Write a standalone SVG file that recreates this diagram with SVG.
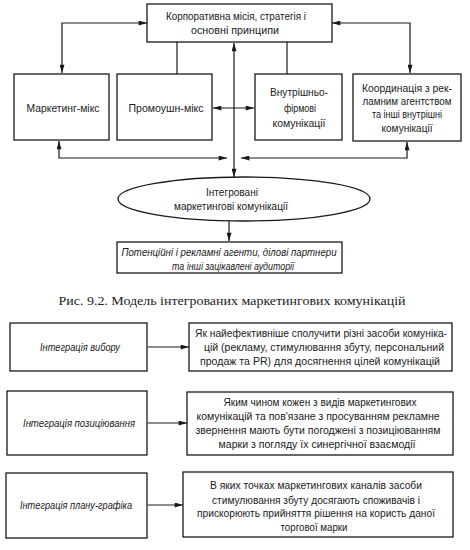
<svg xmlns="http://www.w3.org/2000/svg" width="470" height="550" viewBox="0 0 470 550">
<defs>
<marker id="ah" viewBox="0 0 10 6" refX="10" refY="3" markerWidth="9" markerHeight="5" markerUnits="userSpaceOnUse" orient="auto-start-reverse">
<path d="M0,0 L10,3 L0,6 Z" fill="#1a1a1a"/>
</marker>
</defs>
<style>
.b{fill:#fff;stroke:#1a1a1a;stroke-width:1.3}
.c{fill:none;stroke:#1a1a1a;stroke-width:1.2}
.t{font-family:"Liberation Sans",Arial,sans-serif;font-size:11.2px;fill:#1a1a1a;text-anchor:middle}
.i{font-style:italic}
.s{font-size:10.4px}
.cap{font-family:"Liberation Serif",serif;font-size:13px;fill:#222;text-anchor:middle}
</style>
<rect width="470" height="550" fill="#fff"/>
<g id="connectors">
<path class="c" d="M147,23 H62 V73" marker-start="url(#ah)" marker-end="url(#ah)"/>
<path class="c" d="M332,23 H410 V73" marker-start="url(#ah)" marker-end="url(#ah)"/>
<path class="c" d="M177,42 V74"/>
<path class="c" d="M287,42 V74"/>
<path class="c" d="M234,43 V177" marker-start="url(#ah)" marker-end="url(#ah)"/>
<path class="c" d="M213,108 H254" marker-start="url(#ah)" marker-end="url(#ah)"/>
<path class="c" d="M59,141 V158 H227" marker-start="url(#ah)" marker-end="url(#ah)"/>
<path class="c" d="M407,142 V158 H241" marker-start="url(#ah)" marker-end="url(#ah)"/>
<path class="c" d="M229,220 V241" marker-end="url(#ah)"/>
<path class="c" d="M148,347 H189" marker-end="url(#ah)"/>
<path class="c" d="M148,423 H187" marker-end="url(#ah)"/>
<path class="c" d="M148,505 H183" marker-end="url(#ah)"/>
</g>
<g id="mission">
<rect class="b" x="147" y="4" width="185" height="38"/>
<text class="t" x="236" y="20" textLength="140" lengthAdjust="spacingAndGlyphs">Корпоративна місія, стратегія і</text>
<text class="t" x="235" y="34" textLength="88" lengthAdjust="spacingAndGlyphs">основні принципи</text>
</g>
<g id="marketing-mix">
<rect class="b" x="14" y="74" width="95" height="66"/>
<text class="t" x="63" y="112" textLength="73" lengthAdjust="spacingAndGlyphs">Маркетинг-мікс</text>
</g>
<g id="promo-mix">
<rect class="b" x="117" y="74" width="95" height="66"/>
<text class="t" x="166" y="112" textLength="75" lengthAdjust="spacingAndGlyphs">Промоушн-мікс</text>
</g>
<g id="internal">
<rect class="b" x="255" y="74" width="87" height="66"/>
<text class="t" x="299" y="96" textLength="58" lengthAdjust="spacingAndGlyphs">Внутрішньо-</text>
<text class="t" x="300" y="112" textLength="32" lengthAdjust="spacingAndGlyphs">фірмові</text>
<text class="t" x="299" y="127" textLength="53" lengthAdjust="spacingAndGlyphs">комунікації</text>
</g>
<g id="coordination">
<rect class="b" x="353" y="74" width="108" height="67"/>
<text class="t" x="407" y="92" textLength="90" lengthAdjust="spacingAndGlyphs">Координація з рек-</text>
<text class="t" x="407" y="105" textLength="89" lengthAdjust="spacingAndGlyphs">ламним агентством</text>
<text class="t" x="407" y="118" textLength="70" lengthAdjust="spacingAndGlyphs">та інші внутрішні</text>
<text class="t" x="407" y="132" textLength="51" lengthAdjust="spacingAndGlyphs">комунікації</text>
</g>
<g id="imc">
<ellipse class="b" cx="244" cy="199" rx="126" ry="22"/>
<text class="t" x="232" y="196" textLength="52" lengthAdjust="spacingAndGlyphs">Інтегровані</text>
<text class="t" x="231" y="210" textLength="114" lengthAdjust="spacingAndGlyphs">маркетингові комунікації</text>
</g>
<g id="audiences">
<rect class="b" x="117" y="242" width="225" height="31"/>
<text class="t i" x="229" y="256" textLength="215" lengthAdjust="spacingAndGlyphs">Потенційні і рекламні агенти, ділові партнери</text>
<text class="t i" x="233" y="270" textLength="122" lengthAdjust="spacingAndGlyphs">та інші зацікавлені аудиторії</text>
</g>
<text class="cap" x="232" y="305" textLength="347" lengthAdjust="spacingAndGlyphs">Рис. 9.2. Модель інтегрованих маркетингових комунікацій</text>
<g id="int-choice">
<rect class="b" x="10" y="323" width="137" height="48"/>
<text class="t i" x="80" y="351" textLength="80" lengthAdjust="spacingAndGlyphs">Інтеграція вибору</text>
</g>
<g id="int-choice-desc">
<rect class="b" x="189" y="323" width="263" height="48"/>
<text class="t s" x="321" y="337" textLength="252" lengthAdjust="spacingAndGlyphs">Як найефективніше сполучити різні засоби комуніка-</text>
<text class="t" x="324" y="351" textLength="240" lengthAdjust="spacingAndGlyphs">цій (рекламу, стимулювання збуту, персональний</text>
<text class="t" x="320" y="365" textLength="240" lengthAdjust="spacingAndGlyphs">продаж та PR) для досягнення цілей комунікацій</text>
</g>
<g id="int-position">
<rect class="b" x="7" y="391" width="140" height="64"/>
<text class="t i" x="79" y="427" textLength="112" lengthAdjust="spacingAndGlyphs">Інтеграція позиціювання</text>
</g>
<g id="int-position-desc">
<rect class="b" x="187" y="392" width="266" height="63"/>
<text class="t" x="320" y="406" textLength="193" lengthAdjust="spacingAndGlyphs">Яким чином кожен з видів маркетингових</text>
<text class="t" x="318" y="420" textLength="243" lengthAdjust="spacingAndGlyphs">комунікацій та пов'язане з просуванням рекламне</text>
<text class="t" x="318" y="434" textLength="245" lengthAdjust="spacingAndGlyphs">звернення мають бути погоджені з позиціюванням</text>
<text class="t" x="317" y="448" textLength="197" lengthAdjust="spacingAndGlyphs">марки з погляду їх синергічної взаємодії</text>
</g>
<g id="int-schedule">
<rect class="b" x="6" y="473" width="141" height="65"/>
<text class="t i" x="76" y="509" textLength="112" lengthAdjust="spacingAndGlyphs">Інтеграція плану-графіка</text>
</g>
<g id="int-schedule-desc">
<rect class="b" x="183" y="472" width="270" height="65"/>
<text class="t" x="316" y="489" textLength="212" lengthAdjust="spacingAndGlyphs">В яких точках маркетингових каналів засоби</text>
<text class="t" x="316" y="504" textLength="208" lengthAdjust="spacingAndGlyphs">стимулювання збуту досягають споживачів і</text>
<text class="t" x="316" y="517" textLength="238" lengthAdjust="spacingAndGlyphs">прискорюють прийняття рішення на користь даної</text>
<text class="t" x="314" y="531" textLength="67" lengthAdjust="spacingAndGlyphs">торгової марки</text>
</g>
</svg>
